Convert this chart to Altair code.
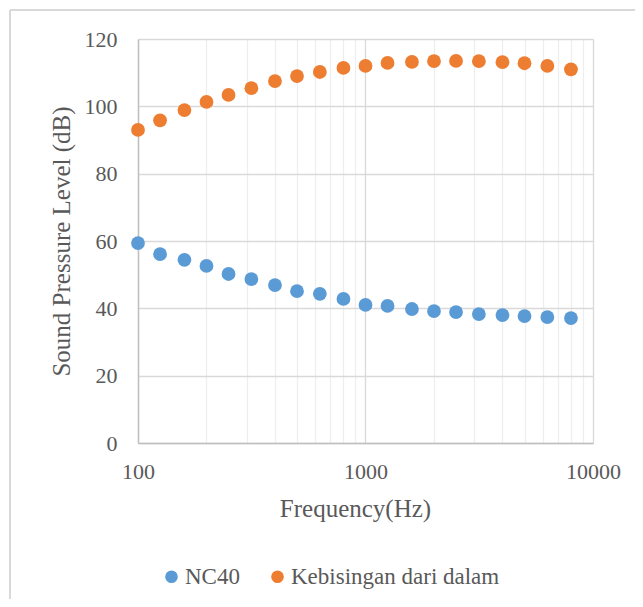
import altair as alt
import pandas as pd

freq = [100, 125, 160, 200, 250, 315, 400, 500, 630, 800, 1000, 1250, 1600,
        2000, 2500, 3150, 4000, 5000, 6300, 8000]
nc40 = [59.4, 56.1, 54.4, 52.6, 50.2, 48.7, 46.9, 45.1, 44.3, 42.8, 41.0, 40.7,
        39.8, 39.2, 38.9, 38.3, 38.0, 37.7, 37.4, 37.1]
dalam = [93.0, 95.8, 98.9, 101.3, 103.4, 105.4, 107.5, 109.0, 110.2, 111.4, 112.0,
         112.9, 113.2, 113.4, 113.5, 113.4, 113.1, 112.8, 112.0, 111.0]
series = ["NC40", "Kebisingan dari dalam"]
colors = ["#5B9BD5", "#ED7D31"]
grid_values = [100, 200, 300, 400, 500, 600, 700, 800, 900,
               1000, 2000, 3000, 4000, 5000, 6000, 7000, 8000, 9000, 10000]

df = pd.DataFrame({
    "freq": freq * 2,
    "spl": nc40 + dalam,
    "series": [series[0]] * len(freq) + [series[1]] * len(freq),
})

FONT = "Liberation Serif"
TXT = "#595959"

points = alt.Chart(df).mark_circle(size=190, opacity=1).encode(
    x=alt.X("freq:Q",
            scale=alt.Scale(type="log", domain=[100, 10000], nice=False),
            axis=alt.Axis(values=grid_values,
                          labelExpr="(datum.value==100||datum.value==1000||datum.value==10000) ? datum.label : ''",
                          format="d",
                          title="Frequency(Hz)",
                          titleX=217, titleAlign="center",
                          gridColor={"condition": {"test": "datum.value==1000 || datum.value==10000", "value": "#d9d9d9"}, "value": "#eeeeee"},
                          gridWidth=1.3,
                          domainColor="#bfbfbf", domainWidth=1.5,
                          ticks=False, labelPadding=18, titlePadding=14,
                          labelFlush=False, labelOverlap=False)),
    y=alt.Y("spl:Q",
            scale=alt.Scale(domain=[0, 120], nice=False),
            axis=alt.Axis(values=[0, 20, 40, 60, 80, 100, 120],
                          title="Sound Pressure Level (dB)",
                          gridColor="#d9d9d9", gridWidth=1.3,
                          domainColor="#bfbfbf", domainWidth=1.5,
                          ticks=False, labelPadding=21, titlePadding=10)),
    color=alt.Color("series:N",
                    scale=alt.Scale(domain=series, range=colors),
                    sort=series,
                    legend=alt.Legend(title=None, orient="none", direction="horizontal",
                                      legendX=22, legendY=526,
                                      symbolType="circle", symbolSize=160,
                                      labelFontSize=23, labelColor=TXT, labelFont=FONT,
                                      columnPadding=26, symbolOffset=0, labelOffset=2,
                                      labelLimit=400)),
)

border_top = alt.Chart(df).mark_rule(color="#d9d9d9", strokeWidth=2, clip=False).encode(
    x=alt.value(-128), x2=alt.value(520), y=alt.value(-29))
border_left = alt.Chart(df).mark_rule(color="#d9d9d9", strokeWidth=2, clip=False).encode(
    x=alt.value(-128), y=alt.value(-29), y2=alt.value(580))

chart = alt.layer(points, border_top, border_left).properties(
    width=455, height=404,
    autosize=alt.AutoSizeParams(type="none"),
    padding={"left": 130, "top": 31, "right": 42, "bottom": 156},
).configure(font=FONT).configure_view(stroke=None).configure_axis(
    labelFont=FONT, titleFont=FONT, labelColor=TXT, titleColor=TXT,
    labelFontSize=22, titleFontSize=25, titleFontWeight="normal",
).configure_legend(labelFont=FONT, labelColor=TXT, labelFontSize=23)

chart.save("out.html", embed_options={"renderer": "svg", "actions": False})
